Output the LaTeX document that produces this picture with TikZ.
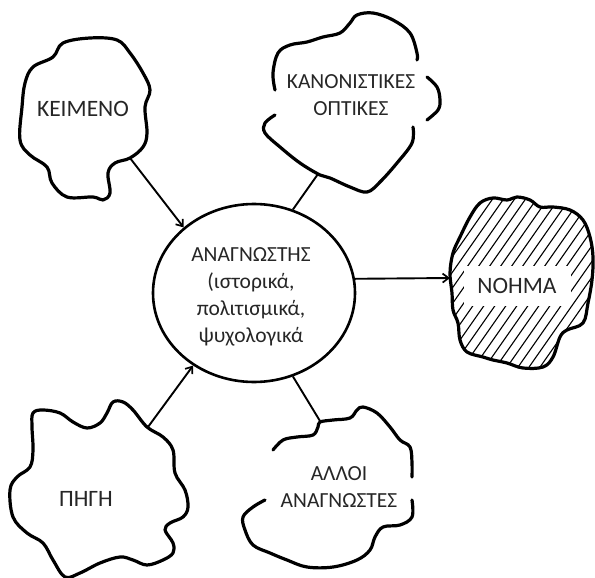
\documentclass[tikz,border=0pt]{standalone}
\usepackage{fontspec}
\setmainfont{Carlito}
\usetikzlibrary{shapes.geometric,arrows.meta}
\begin{document}
\begin{tikzpicture}[x=1pt,y=-1pt,
  cloud/.style={line width=3.2pt, line join=round, line cap=round},
  conn/.style={line width=1.9pt},
  lbl/.style={text=black!85, font=\fontsize{23.5}{27}\selectfont, inner sep=0pt},
  lbls/.style={text=black!85, font=\fontsize{21.5}{27}\selectfont, align=center, inner sep=0pt},
  tip/.style={-{Straight Barb[length=6pt,width=9pt,line width=1.7pt]}}
]
\useasboundingbox (0,0) rectangle (595,578);

% central ellipse
\node[draw, ellipse, line width=2.6pt, minimum width=202pt, minimum height=178pt, inner sep=0pt] (ell) at (254,293) {};
\node[lbls] (reader) at (251,297) {ΑΝΑΓΝΩΣΤΗΣ\\(ιστορικά,\\πολιτισμικά,\\ψυχολογικά};

% KEIMENO
\draw[cloud] plot[smooth cycle, tension=0.6] coordinates {(63,43) (53,57) (33,67) (25,83) (22,107) (20,140) (30,155) (47,167) (52,183) (67,197) (93,197) (103,200) (110,193) (108,173) (115,163) (130,158) (143,147) (147,133) (145,107) (150,90) (143,73) (130,53) (117,40) (90,38)};
\coordinate (kC) at (130,158);
\node[lbl] (keimeno) at (83,109) {ΚΕΙΜΕΝΟ};
\draw[conn,tip] (kC) -- (ell.137);

% KANONISTIKES OPTIKES
\draw[cloud] plot[smooth, tension=0.6] coordinates {(275,90) (273,73) (278,53) (290,45) (307,42) (323,37) (340,33) (350,23) (357,15) (373,13) (393,20) (410,33) (417,53) (417,60)};
\draw[cloud] plot[smooth, tension=0.6] coordinates {(427,77) (437,87) (440,100) (438,110) (427,120)};
\draw[cloud] plot[smooth, tension=0.6] coordinates {(413,127) (412,143) (397,163) (380,182) (367,192) (350,187) (330,178) (320,175) (300,163) (280,147) (265,133) (265,123) (275,115)};
\coordinate (kaC) at (318,174);
\node[lbls] (kanon) at (351,95) {ΚΑΝΟΝΙΣΤΙΚΕΣ\\ΟΠΤΙΚΕΣ};
\draw[conn] (kaC) -- (ell.65);

% NOHMA (hatched)
\def\nohmapath{plot[smooth cycle, tension=0.6] coordinates {(460,237) (470,217) (480,203) (493,198) (507,200) (517,197) (530,200) (540,207) (553,207) (570,210) (583,220) (590,237) (593,257) (592,280) (588,303) (583,323) (567,330) (560,337) (553,357) (543,367) (523,368) (507,363) (493,360) (483,357) (467,352) (460,340) (458,323) (453,310) (452,293) (450,273) (453,253)}}
\begin{scope}
  \clip \nohmapath;
  \foreach \x in {300,311,...,610} {
    \draw[line width=1.1pt] (\x,380) -- ++(135,-193);
  }
\end{scope}
\node[fill=white, minimum width=107pt, minimum height=40pt, lbl] (nohma) at (517,286) {ΝΟΗΜΑ};
\draw[cloud] \nohmapath;
\coordinate (nC) at (450,278);
\draw[conn,tip] (ell.8) -- (nC);

% PIGI
\draw[cloud] plot[smooth cycle, tension=0.6] coordinates {(33,413) (43,410) (60,413) (73,422) (87,428) (100,423) (107,413) (113,402) (123,402) (133,410) (147,427) (163,437) (173,450) (175,473) (185,490) (188,507) (183,517) (170,523) (165,530) (173,543) (173,553) (163,560) (147,565) (133,560) (120,557) (100,563) (80,573) (65,577) (53,560) (43,543) (27,533) (13,517) (10,490) (17,477) (30,467) (33,450) (32,427)};
\coordinate (pC) at (148,427);
\node[lbl] (pigi) at (86,499) {ΠΗΓΗ};
\draw[conn,tip] (pC) -- (ell.230);

% ALLOI ANAGNOSTES
\draw[cloud] plot[smooth, tension=0.6] coordinates {(273,450) (283,440) (297,437) (313,435) (318,427) (320,422) (333,420) (350,418) (357,410) (363,407) (377,413) (390,427) (400,440) (410,447) (412,463) (412,477)};
\draw[cloud] plot[smooth, tension=0.6] coordinates {(412,500) (412,517) (400,525) (383,527) (375,537) (370,550) (357,560) (333,567) (307,567) (287,560) (270,553) (253,545) (245,530) (243,517) (253,507) (265,500)};
\coordinate (aC) at (320,421);
\node[lbls] (alloi) at (339,487) {ΑΛΛΟΙ\\ΑΝΑΓΝΩΣΤΕΣ};
\draw[conn] (aC) -- (ell.295);
\end{tikzpicture}
\end{document}
